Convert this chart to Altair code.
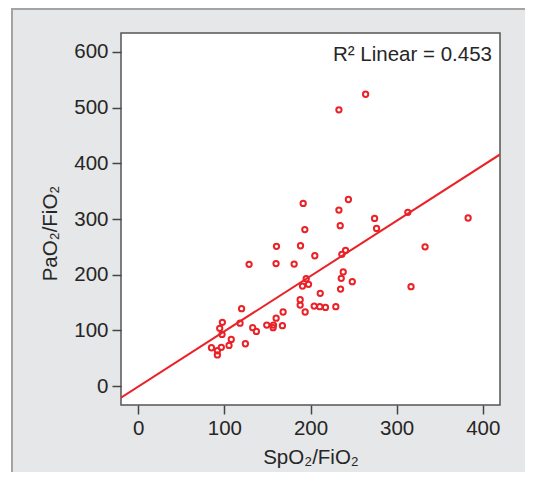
import altair as alt
import pandas as pd

# Values
spo2_fio2 = [264, 233, 191.5, 244, 233, 274.4, 276.7, 234.5, 193.4, 160.5,
             188.4, 205, 128.7, 160, 181, 236.4, 240.7, 238, 235.7, 248.5,
             234.9, 195, 190.7, 197.7, 211.3, 188, 188, 193.8, 204.3, 210.8,
             217.4, 229.4, 120, 118.2, 97.7, 94.6, 97.3, 132.9, 137.2, 168.2,
             160.1, 149.2, 157, 156.6, 167.4, 108, 105.4, 124.4, 85, 96.5,
             91.9, 91.9, 313, 383, 333, 316.7]
pao2_fio2 = [524, 496, 328, 335, 316, 301, 283, 288, 281, 251,
             252, 234, 218.6, 220, 219, 236.5, 243.7, 205, 193.4, 187.4,
             174.2, 192.7, 179.6, 182.7, 166.5, 155, 145.5, 133, 143.7, 142.5,
             141.3, 142.5, 139, 113, 114.4, 103.6, 92.8, 104.8, 98.2, 133,
             122, 109.6, 109.6, 104.8, 108.4, 83.8, 73, 76, 68.8, 69.5,
             56, 63.4, 312, 301.8, 250, 178.4]
x_ticks = [0, 100, 200, 300, 400]
y_ticks = [0, 100, 200, 300, 400, 500, 600]
x_title = "SpO₂/FiO₂"
y_title = "PaO₂/FiO₂"
r2_label = "R² Linear = 0.453"

df = pd.DataFrame({"spo2": spo2_fio2, "pao2": pao2_fio2})

W, H = 379, 372
RED = "#ea2228"
FONT = "Liberation Sans"
FS = 20.5

xs = alt.Scale(domain=[-20, 420], nice=False, zero=False)
ys = alt.Scale(domain=[-34, 634], nice=False, zero=False)

one = alt.Data(values=[{"k": 1}])

panel = alt.Chart(one).mark_rect(fill="#e6e7e8", stroke="#a4a4a4", strokeWidth=2).encode(
    x=alt.value(-109), x2=alt.value(700), y=alt.value(-24), y2=alt.value(700)
)
frame = alt.Chart(one).mark_rect(fill="white", stroke="#555555", strokeWidth=1.5).encode(
    x=alt.value(0), x2=alt.value(W), y=alt.value(0), y2=alt.value(H)
)

points = alt.Chart(df).mark_point(
    shape="circle", filled=False, color=RED, strokeWidth=2, size=28, opacity=1
).encode(
    x=alt.X("spo2:Q", scale=xs,
            axis=alt.Axis(values=x_ticks, title=x_title, titlePadding=9, zindex=2)),
    y=alt.Y("pao2:Q", scale=ys,
            axis=alt.Axis(values=y_ticks, title=y_title, titlePadding=13,
                          titleY=200, zindex=2)),
)

line = alt.Chart(df).transform_regression(
    "spo2", "pao2", extent=[-20, 420]
).mark_line(color=RED, strokeWidth=2, clip=True).encode(
    x=alt.X("spo2:Q", scale=xs),
    y=alt.Y("pao2:Q", scale=ys),
)

label = alt.Chart(alt.Data(values=[{"t": r2_label}])).mark_text(
    align="right", baseline="alphabetic", fontSize=FS, font=FONT, color="#262626"
).encode(text="t:N", x=alt.value(371), y=alt.value(28))

chart = alt.layer(panel, frame, line, points, label).properties(
    width=W, height=H,
    padding={"left": 113, "top": 25, "right": 25, "bottom": 67},
    autosize="none",
    background="white",
).configure_view(stroke=None).configure_axis(
    labelFont=FONT, labelFontSize=FS, labelColor="#262626", labelPadding=4,
    tickColor="#444444", tickWidth=1.5, tickSize=9,
    domain=False, grid=False,
    titleFont=FONT, titleFontSize=FS, titleFontWeight="normal", titleColor="#262626",
)

chart.save("out.html", embed_options={"renderer": "svg", "actions": False})
